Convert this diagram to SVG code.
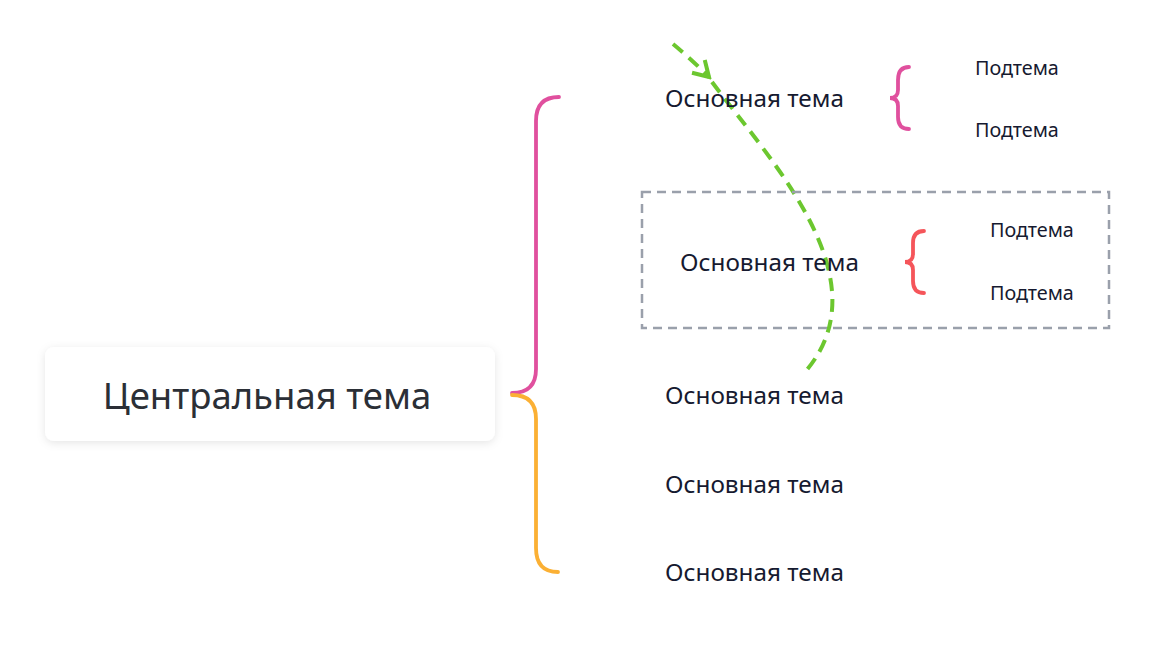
<svg xmlns="http://www.w3.org/2000/svg" width="1154" height="653" viewBox="0 0 1154 653">
<defs>
<filter id="sh" x="-10%" y="-30%" width="120%" height="160%">
<feDropShadow dx="0" dy="2" stdDeviation="4" flood-color="#000" flood-opacity="0.10"/>
</filter>
<marker id="arr" viewBox="0 0 22 22" refX="19" refY="11" markerWidth="22" markerHeight="22" markerUnits="userSpaceOnUse" orient="auto">
<polyline points="4,2 19,11 4,20" fill="none" stroke="#6cc72f" stroke-width="4"/>
</marker>
<style>
.main{font-family:"Noto Sans","Open Sans","DejaVu Sans",sans-serif;font-size:24.3px;fill:#161a30;dominant-baseline:central}
.sub{font-family:"Noto Sans","Open Sans","DejaVu Sans",sans-serif;font-size:19.8px;fill:#161a30;dominant-baseline:central}
.br{fill:none;stroke-width:3.8;stroke-linecap:round}
.rel{fill:none;stroke:#6cc72f;stroke-width:4;stroke-dasharray:13 8}
</style>
</defs>
<rect width="1154" height="653" fill="#fff"/>

<g id="connectors">
<path class="br" stroke="#e0509e" d="M512,393 Q536,393 536,369 L536,121 Q536,97 559,97"/>
<path class="br" stroke="#fbb034" d="M512,395 Q536,395 536,419 L536,548 Q536,572 558,572"/>
<path class="br" stroke="#e0509e" stroke-width="3.3" d="M909,67 Q898,67 898,80 L898,90 Q898,98 890,98 Q898,98 898,106 L898,117 Q898,129 909,129"/>
<path class="br" stroke="#f5555a" stroke-width="3.3" d="M924,231 Q913,231 913,243 L913,254 Q913,262 905,262 Q913,262 913,270 L913,281 Q913,293 924,293"/>
<path class="rel" d="M673,44 Q690,58 709,77" marker-end="url(#arr)"/>
<path class="rel" d="M712,82 C770,160 885,280 805,372"/>
</g>

<g id="central">
<rect x="45" y="347" width="450" height="94" rx="9" fill="#fff" filter="url(#sh)"/>
<text x="267" y="395" text-anchor="middle" font-family="'Noto Sans','Open Sans','DejaVu Sans',sans-serif" font-size="36.5" fill="#2b2f36" dominant-baseline="central">Центральная тема</text>
</g>

<g id="topic1"><text class="main" x="665" y="97">Основная тема</text></g>
<g id="sub1a"><text class="sub" x="975" y="67">Подтема</text></g>
<g id="sub1b"><text class="sub" x="975" y="129">Подтема</text></g>

<g id="topic2">
<rect x="642" y="192" width="467" height="136" fill="none" stroke="#9aa0ab" stroke-width="2.5" stroke-dasharray="9 6"/>
<text class="main" x="680" y="261">Основная тема</text>
</g>
<g id="sub2a"><text class="sub" x="990" y="229">Подтема</text></g>
<g id="sub2b"><text class="sub" x="990" y="292">Подтема</text></g>

<g id="topic3"><text class="main" x="665" y="394">Основная тема</text></g>
<g id="topic4"><text class="main" x="665" y="483">Основная тема</text></g>
<g id="topic5"><text class="main" x="665" y="571">Основная тема</text></g>
</svg>
